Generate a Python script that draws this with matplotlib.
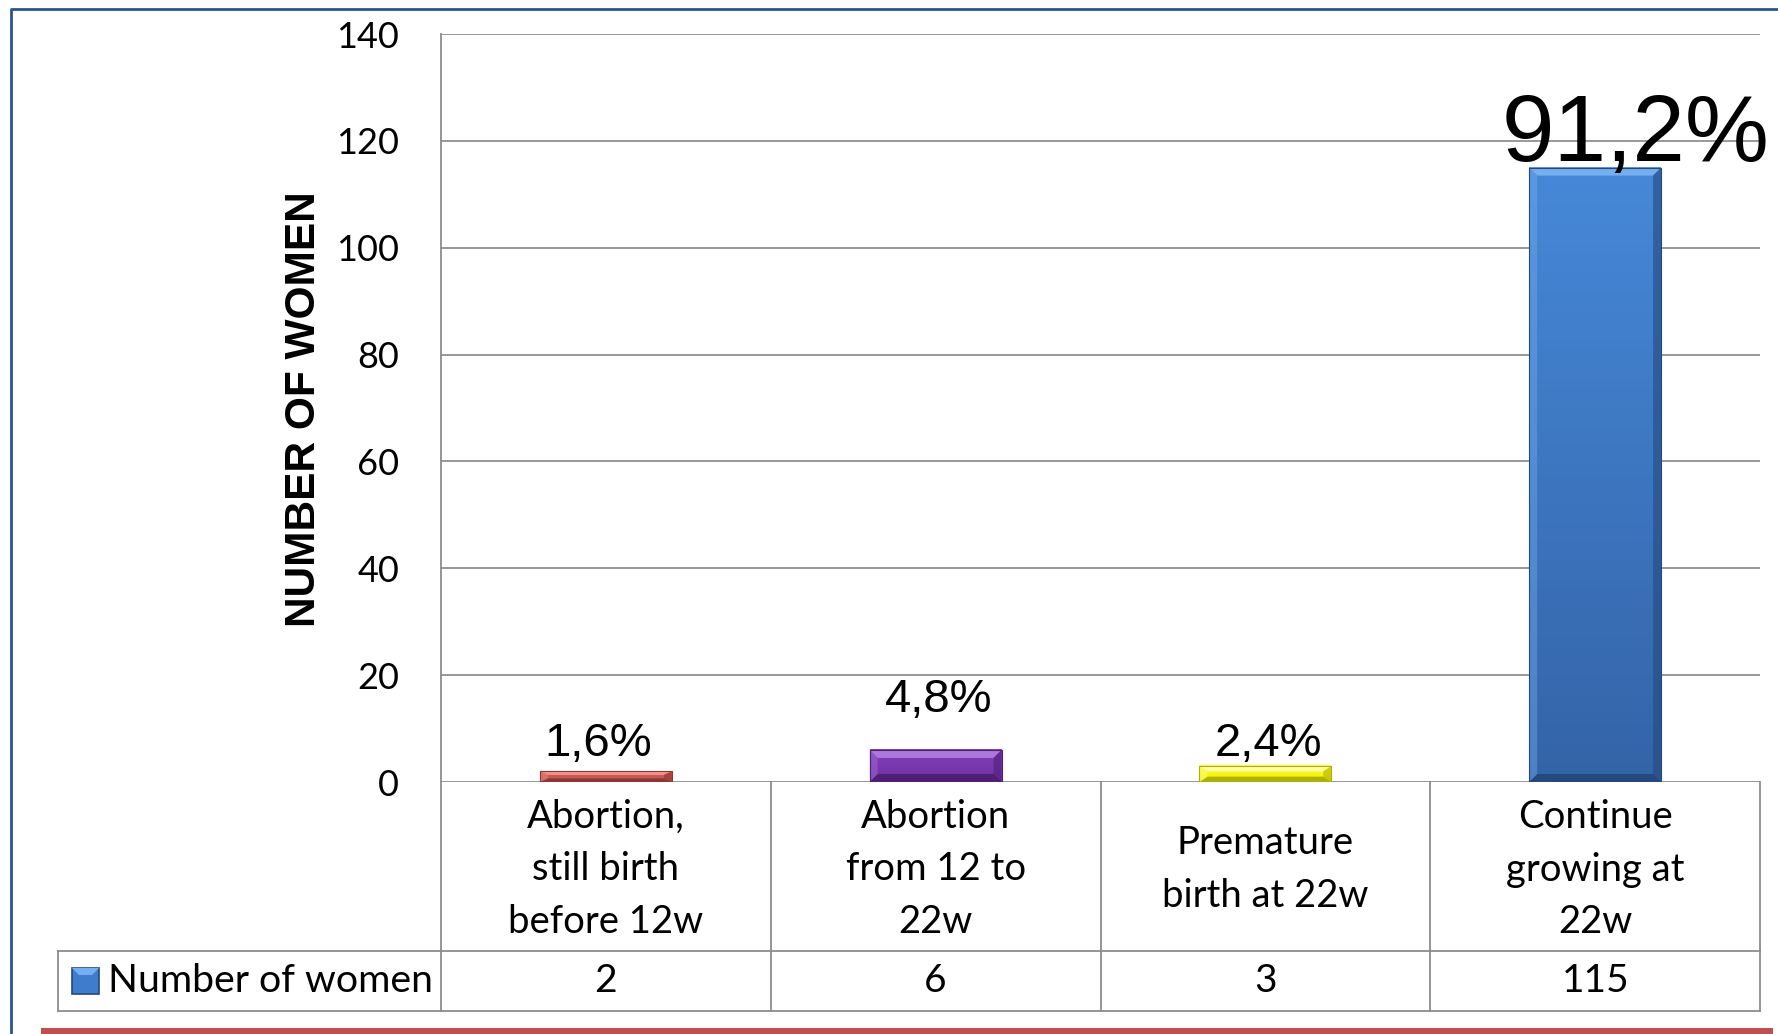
import numpy as np
import matplotlib.pyplot as plt
from matplotlib.patches import Polygon, Rectangle
from matplotlib.lines import Line2D
from matplotlib.colors import LinearSegmentedColormap
from matplotlib.transforms import blended_transform_factory

categories = ['Abortion,\nstill birth\nbefore 12w', 'Abortion\nfrom 12 to\n22w',
              'Premature\nbirth at 22w', 'Continue\ngrowing at\n22w']
counts = [2, 6, 3, 115]
pct_labels = ['1,6%', '4,8%', '2,4%', '91,2%']
series_name = 'Number of women'

# face gradient (top, bottom), top bevel, bottom bevel
bar_styles = [
    ('#d2625e', '#c0504d', '#f29490', '#8e3634'),
    ('#8240bb', '#7030a0', '#ac78dc', '#4f1f78'),
    ('#ffff30', '#eeee00', '#ffffa8', '#b0b000'),
    ('#4688d8', '#3464a8', '#75afef', '#24497e'),
]
# label offsets in px (dx, dy above bar top) and font sizes
label_off = [(-8, 15), (3, 38), (3, 10), (40, 7)]
label_size = [34, 34, 34, 68]

W, H = 1778, 1034
fig = plt.figure(figsize=(W / 100, H / 100), dpi=100)
plt.rcParams['font.family'] = ['Lato', 'DejaVu Sans']


def fx(x):
    return x / W


def fy(y):
    return 1 - y / H


ax_left, ax_right, ax_top, ax_zero = 441, 1760, 34, 782
ax = fig.add_axes([fx(ax_left), fy(ax_zero), (ax_right - ax_left) / W, (ax_zero - ax_top) / H])
ax.set_xlim(-0.5, len(counts) - 0.5)
ax.set_ylim(0, 140)
ax.set_yticks(np.arange(0, 141, 20))
ax.tick_params(axis='y', length=0, pad=30, labelsize=26)
ax.set_xticks([])
for s in ['top', 'right', 'bottom', 'left']:
    ax.spines[s].set_visible(False)
ax.yaxis.grid(True, color='#868686', lw=1.2)
ax.set_axisbelow(True)

bw = 0.4
ppx = (ax_right - ax_left) / len(counts)   # px per x unit
ppy = (ax_zero - ax_top) / 140.0            # px per y unit
for i, (v, st) in enumerate(zip(counts, bar_styles)):
    top, bot, hi, lo = st
    x0, x1 = i - bw / 2, i + bw / 2
    cm = LinearSegmentedColormap.from_list('g', [bot, top])
    grad = np.linspace(0, 1, 64).reshape(-1, 1)
    ax.imshow(grad, extent=[x0, x1, 0, v], origin='lower', aspect='auto', cmap=cm, zorder=3)
    dx = 8 / ppx
    dy = min(8 / ppy, v / 3)
    ax.add_patch(Polygon([(x0, v), (x1, v), (x1 - dx, v - dy), (x0 + dx, v - dy)], closed=True,
                         fc=hi, ec='none', zorder=4))
    ax.add_patch(Polygon([(x0, 0), (x1, 0), (x1 - dx, dy), (x0 + dx, dy)], closed=True,
                         fc=lo, ec='none', zorder=4))
    ax.add_patch(Polygon([(x1, 0), (x1, v), (x1 - dx, v - dy), (x1 - dx, dy)], closed=True,
                         fc=lo, ec='none', alpha=0.6, zorder=4))
    ax.add_patch(Polygon([(x0, 0), (x0, v), (x0 + dx, v - dy), (x0 + dx, dy)], closed=True,
                         fc=hi, ec='none', alpha=0.4, zorder=4))
    ax.add_patch(Rectangle((x0, 0), bw, v, fc='none', ec=lo, lw=0.8, zorder=5))
    ox, oy = label_off[i]
    ax.annotate(pct_labels[i], (i, v), xytext=(ox * 0.72, oy * 0.72), textcoords='offset points',
                ha='center', va='baseline', fontsize=label_size[i],
                family=['Liberation Sans'], annotation_clip=False, zorder=6)

ax.set_xlim(-0.5, len(counts) - 0.5)
ax.set_ylim(0, 140)

# data table under the axis
row1, row2 = 951, 1011
leg_left = 58
gray = '#8c8c8c'
lines = [
    ((ax_left, ax_left), (ax_top, row2)),
    ((leg_left, ax_right), (row1, row1)),
    ((leg_left, ax_right), (row2, row2)),
    ((leg_left, leg_left), (row1, row2)),
    ((ax_right, ax_right), (ax_zero, row2)),
]
for k in range(1, len(counts)):
    xb = ax_left + k * ppx
    lines.append(((xb, xb), (ax_zero, row2)))
for xs, ys in lines:
    fig.add_artist(Line2D([fx(x) for x in xs], [fy(y) for y in ys], color=gray, lw=1.3))

tr = blended_transform_factory(ax.transData, fig.transFigure)
for i, (c, v) in enumerate(zip(categories, counts)):
    fig.text(i, fy((ax_zero + row1) / 2 + 3), c, transform=tr, ha='center', va='center',
             fontsize=27.5, linespacing=1.58)
    fig.text(i, fy((row1 + row2) / 2), str(v), transform=tr, ha='center', va='center', fontsize=28)

# legend key
fig.add_artist(Rectangle((fx(72), fy(994)), 27 / W, 26 / H, transform=fig.transFigure,
                         fc='#3f7dcc', ec='#24497e', lw=1.2))
fig.add_artist(Polygon([(fx(72), fy(968)), (fx(99), fy(968)), (fx(92), fy(975)), (fx(79), fy(975))],
                       closed=True, transform=fig.transFigure, fc='#75afef', ec='none'))
fig.text(fx(108), fy((row1 + row2) / 2), series_name, ha='left', va='center', fontsize=28.3)

fig.text(fx(304), fy(409), 'NUMBER OF WOMEN', rotation=90, ha='center', va='center',
         fontsize=30.5, fontweight='bold', family=['Liberation Sans'])

# outer frame: blue top/left, red bottom strip
blue = '#2a5490'
fig.add_artist(Line2D([fx(11), fx(11), fx(W)], [fy(H), fy(9), fy(9)], color=blue, lw=2))
fig.add_artist(Rectangle((fx(41), 0), (1773 - 41) / W, 6 / H, transform=fig.transFigure,
                         fc='#c0504d', ec='none'))

fig.savefig('out.png', dpi=100)
